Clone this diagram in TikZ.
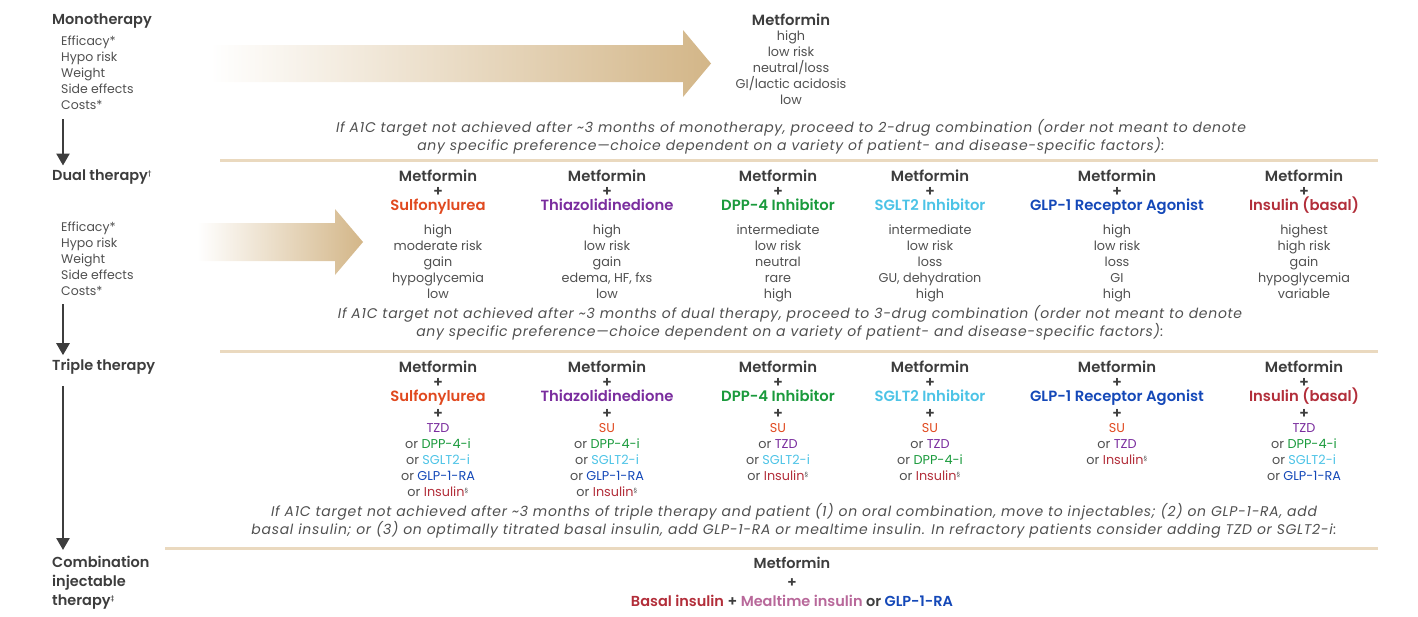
\documentclass[tikz,border=0pt]{standalone}
\usepackage{fontspec}
\setmainfont{Poppins}[BoldFont={Poppins SemiBold}]
\newfontfamily\notefont{Poppins}[LetterSpace=5]
\usetikzlibrary{positioning,arrows.meta}

\definecolor{ink}{HTML}{3D3D3D}
\definecolor{soft}{HTML}{505050}
\definecolor{tan}{HTML}{D3B688}
\definecolor{rulec}{HTML}{EAD9BF}
\definecolor{suc}{HTML}{E0491F}
\definecolor{tzdc}{HTML}{7A2D9E}
\definecolor{dppc}{HTML}{1A9A3C}
\definecolor{sgltc}{HTML}{4CC3E6}
\definecolor{glpc}{HTML}{1448B8}
\definecolor{insc}{HTML}{B22E3A}
\definecolor{mealc}{HTML}{B8689A}

\newcommand{\secmark}{\textsuperscript{\fontsize{6}{6}\selectfont §}}

\begin{document}
\begin{tikzpicture}
    [ x = 1pt, y = -1pt
    , stage/.style =
      { font=\fontsize{14.5}{19}\selectfont\bfseries, text=ink, anchor=west, inner sep=0pt }
    , crit/.style =
      { font=\fontsize{12.5}{16}\selectfont, text=soft, anchor=north west, align=left, inner sep=0pt }
    , drug/.style =
      { font=\fontsize{14.8}{14.5}\selectfont\bfseries, text=ink, anchor=north, align=center, inner sep=0pt }
    , vals/.style =
      { font=\fontsize{12.8}{16}\selectfont, text=soft, align=center, inner sep=0pt }
    , note/.style =
      { font=\fontsize{14}{18}\selectfont\notefont\itshape, text=soft, align=center, inner sep=0pt }
    , rule/.style =
      { rulec, line width=3pt }
    , down/.style =
      { ink, line width=2.5pt, -{Triangle[width=13pt,length=12pt]} }
    , fade/.style =
      { left color=white, right color=tan }
    ]
    \useasboundingbox (0,0) rectangle (1418,616);

    % left column
    \node [stage] (mono) at (52,21) {Monotherapy};
    \node [crit] (monolist) at (61,36) {Efficacy*\\Hypo risk\\Weight\\Side effects\\Costs*};
    \node [stage] (dual) at (52,177) {Dual therapy\textsuperscript{\fontsize{6}{6}\selectfont †}};
    \node [crit] (duallist) at (61,222) {Efficacy*\\Hypo risk\\Weight\\Side effects\\Costs*};
    \node [stage] (triple) at (52,367) {Triple therapy};
    \node [stage, anchor=north west, align=left] (combo) at (52,556)
      {Combination\\injectable\\therapy\textsuperscript{\fontsize{6}{6}\selectfont ‡}};

    \draw [down] ([shift={(2,9)}]monolist.south west) -- ([shift={(11,-4)}]dual.north west);
    \draw [down] ([shift={(2,8)}]duallist.south west) -- ([shift={(11,-4)}]triple.north west);
    \draw [down] ([shift={(11,11)}]triple.south west) -- ([shift={(11,-6)}]combo.north west);

    % shaded arrows
    \shade [fade] (210,45) -- (683,45) -- (683,30) -- (711,63.5) -- (683,97) -- (683,82) -- (210,82) -- cycle;
    \shade [fade] (197,223) -- (335,223) -- (335,209) -- (363,242) -- (335,275) -- (335,261) -- (197,261) -- cycle;

    % rules
    \draw [rule] (220,160) -- (1378,160);
    \draw [rule] (220,351) -- (1378,351);
    \draw [rule] (165,548) -- (1378,548);

    % monotherapy
    \node [drug] (mMet) at (791,14) {Metformin};
    \node [vals] (mMetv) [below=17pt of mMet.north] {high\\low risk\\neutral/loss\\GI/lactic acidosis\\low};
    \node [note] (note1) at (791,137)
      {If A1C target not achieved after \textasciitilde3 months of monotherapy, proceed to 2-drug combination (order not meant to denote\\
       any specific preference—choice dependent on a variety of patient- and disease-specific factors):};

    % dual therapy
    \node [drug] (dSU) at (438,170) {Metformin\\+\\\textcolor{suc}{Sulfonylurea}};
    \node [drug] (dTZD) at (607,170) {Metformin\\+\\\textcolor{tzdc}{Thiazolidinedione}};
    \node [drug] (dDPP) at (778,170) {Metformin\\+\\\textcolor{dppc}{DPP-4 Inhibitor}};
    \node [drug] (dSGLT) at (930,170) {Metformin\\+\\\textcolor{sgltc}{SGLT2 Inhibitor}};
    \node [drug] (dGLP) at (1117,170) {Metformin\\+\\\textcolor{glpc}{GLP-1 Receptor Agonist}};
    \node [drug] (dINS) at (1304,170) {Metformin\\+\\\textcolor{insc}{Insulin (basal)}};

    \node [vals] (dSUv) [below=55pt of dSU.north] {high\\moderate risk\\gain\\hypoglycemia\\low};
    \node [vals] (dTZDv) [below=55pt of dTZD.north] {high\\low risk\\gain\\edema, HF, fxs\\low};
    \node [vals] (dDPPv) [below=55pt of dDPP.north] {intermediate\\low risk\\neutral\\rare\\high};
    \node [vals] (dSGLTv) [below=55pt of dSGLT.north] {intermediate\\low risk\\loss\\GU, dehydration\\high};
    \node [vals] (dGLPv) [below=55pt of dGLP.north] {high\\low risk\\loss\\GI\\high};
    \node [vals] (dINSv) [below=55pt of dINS.north] {highest\\high risk\\gain\\hypoglycemia\\variable};

    \node [note] (note2) at (790,323)
      {If A1C target not achieved after \textasciitilde3 months of dual therapy, proceed to 3-drug combination (order not meant to denote\\
       any specific preference—choice dependent on a variety of patient- and disease-specific factors):};

    % triple therapy
    \node [drug] (tSU) at (438,361) {Metformin\\+\\\textcolor{suc}{Sulfonylurea}\\[2pt]+};
    \node [drug] (tTZD) at (607,361) {Metformin\\+\\\textcolor{tzdc}{Thiazolidinedione}\\[2pt]+};
    \node [drug] (tDPP) at (778,361) {Metformin\\+\\\textcolor{dppc}{DPP-4 Inhibitor}\\[2pt]+};
    \node [drug] (tSGLT) at (930,361) {Metformin\\+\\\textcolor{sgltc}{SGLT2 Inhibitor}\\[2pt]+};
    \node [drug] (tGLP) at (1117,361) {Metformin\\+\\\textcolor{glpc}{GLP-1 Receptor Agonist}\\[2pt]+};
    \node [drug] (tINS) at (1304,361) {Metformin\\+\\\textcolor{insc}{Insulin (basal)}\\[2pt]+};

    \node [vals] (tSUv) [below=62.5pt of tSU.north]
      {\textcolor{tzdc}{TZD}\\or \textcolor{dppc}{DPP-4-i}\\or \textcolor{sgltc}{SGLT2-i}\\or \textcolor{glpc}{GLP-1-RA}\\or \textcolor{insc}{Insulin}\secmark};
    \node [vals] (tTZDv) [below=62.5pt of tTZD.north]
      {\textcolor{suc}{SU}\\or \textcolor{dppc}{DPP-4-i}\\or \textcolor{sgltc}{SGLT2-i}\\or \textcolor{glpc}{GLP-1-RA}\\or \textcolor{insc}{Insulin}\secmark};
    \node [vals] (tDPPv) [below=62.5pt of tDPP.north]
      {\textcolor{suc}{SU}\\or \textcolor{tzdc}{TZD}\\or \textcolor{sgltc}{SGLT2-i}\\or \textcolor{insc}{Insulin}\secmark};
    \node [vals] (tSGLTv) [below=62.5pt of tSGLT.north]
      {\textcolor{suc}{SU}\\or \textcolor{tzdc}{TZD}\\or \textcolor{dppc}{DPP-4-i}\\or \textcolor{insc}{Insulin}\secmark};
    \node [vals] (tGLPv) [below=62.5pt of tGLP.north]
      {\textcolor{suc}{SU}\\or \textcolor{tzdc}{TZD}\\or \textcolor{insc}{Insulin}\secmark};
    \node [vals] (tINSv) [below=62.5pt of tINS.north]
      {\textcolor{tzdc}{TZD}\\or \textcolor{dppc}{DPP-4-i}\\or \textcolor{sgltc}{SGLT2-i}\\or \textcolor{glpc}{GLP-1-RA}};

    \node [note] (note3) at (794,521)
      {If A1C target not achieved after \textasciitilde3 months of triple therapy and patient (1) on oral combination, move to injectables; (2) on GLP-1-RA, add\\
       basal insulin; or (3) on optimally titrated basal insulin, add GLP-1-RA or mealtime insulin. In refractory patients consider adding TZD or SGLT2-i:};

    % combination injectable therapy
    \node [drug, font=\fontsize{14.5}{19}\selectfont\bfseries] (cMet) at (792,557)
      {Metformin\\+\\\textcolor{insc}{Basal insulin} + \textcolor{mealc}{Mealtime insulin} or \textcolor{glpc}{GLP-1-RA}};
  \end{tikzpicture}
\end{document}
